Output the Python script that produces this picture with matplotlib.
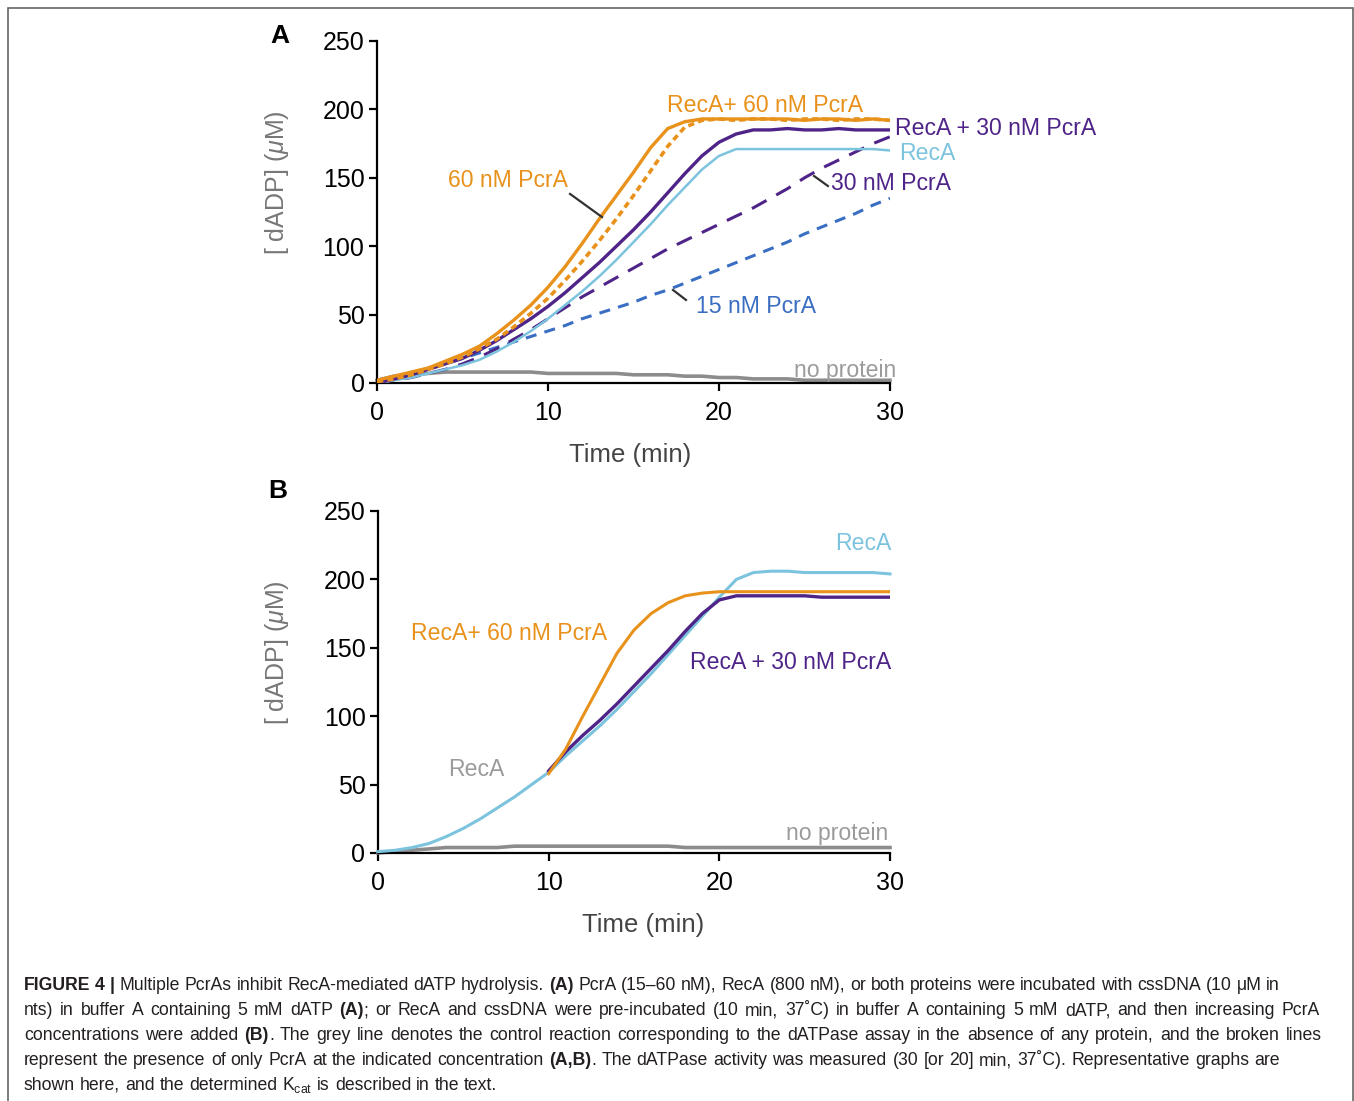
import matplotlib
matplotlib.use("Agg")
import matplotlib.pyplot as plt
from matplotlib.patches import Rectangle
from matplotlib.transforms import IdentityTransform

plt.rcParams['font.family'] = ['Liberation Sans', 'DejaVu Sans']
plt.rcParams['mathtext.fontset'] = 'custom'
plt.rcParams['mathtext.rm'] = 'Liberation Sans'
plt.rcParams['mathtext.it'] = 'Liberation Sans:italic'
plt.rcParams['mathtext.bf'] = 'Liberation Sans:bold'
plt.rcParams['lines.scale_dashes'] = False

# ---------------- data ----------------
A_TIME = [0, 1, 2, 3, 4, 5, 6, 7, 8, 9, 10, 11, 12, 13, 14, 15, 16, 17, 18, 19, 20,
          21, 22, 23, 24, 25, 26, 27, 28, 29, 30]
A_RECA_60 = [2, 5, 8, 11, 16, 21, 27, 36, 46, 57, 70, 85, 102, 120, 137, 154, 172, 186, 191, 193,
             193, 193, 193, 193, 193, 192, 193, 193, 192, 193, 192]
A_PCRA_60 = [1, 3, 6, 10, 14, 19, 25, 32, 41, 51, 62, 75, 89, 104, 120, 137, 155, 173, 187, 192,
             193, 192, 193, 193, 192, 193, 193, 192, 193, 193, 192]
A_RECA_30 = [0, 3, 6, 10, 14, 18, 24, 31, 39, 47, 56, 66, 77, 88, 100, 112, 125, 139, 153, 166,
             176, 182, 185, 185, 186, 185, 185, 186, 185, 185, 185]
A_RECA = [0, 2, 4, 7, 10, 13, 17, 23, 30, 38, 47, 57, 67, 78, 90, 103, 116, 130, 143, 156,
          166, 171, 171, 171, 171, 171, 171, 171, 171, 171, 170]
A_PCRA_30 = [0, 2, 4, 7, 10, 14, 19, 25, 32, 39, 47, 55, 63, 70, 77, 84, 91, 98, 104, 110,
             116, 122, 128, 135, 142, 150, 157, 163, 169, 175, 180]
A_PCRA_15 = [0, 3, 6, 10, 14, 18, 22, 26, 30, 34, 38, 42, 47, 51, 55, 59, 64, 68, 73, 78,
             83, 88, 93, 98, 103, 109, 114, 119, 124, 130, 135]
A_NONE = [2, 5, 6, 7, 8, 8, 8, 8, 8, 8, 7, 7, 7, 7, 7, 6, 6, 6, 5, 5,
          4, 4, 3, 3, 3, 2, 2, 2, 2, 2, 2]

B_TIME = [0, 1, 2, 3, 4, 5, 6, 7, 8, 9, 10, 11, 12, 13, 14, 15, 16, 17, 18, 19, 20,
          21, 22, 23, 24, 25, 26, 27, 28, 29, 30]
B_RECA = [1, 2, 4, 7, 12, 18, 25, 33, 41, 50, 59, 71, 82, 93, 105, 118, 131, 145, 159, 173,
          187, 200, 205, 206, 206, 205, 205, 205, 205, 205, 204]
B_NONE = [0, 1, 2, 3, 4, 4, 4, 4, 5, 5, 5, 5, 5, 5, 5, 5, 5, 5, 4, 4,
          4, 4, 4, 4, 4, 4, 4, 4, 4, 4, 4]
B_TIME_PCRA = [10, 11, 12, 13, 14, 15, 16, 17, 18, 19, 20, 21, 22, 23, 24, 25, 26, 27, 28, 29, 30]
B_RECA_30 = [60, 74, 86, 97, 109, 122, 135, 148, 162, 175, 185, 188, 188, 188, 188, 188, 187, 187,
             187, 187, 187]
B_RECA_60 = [58, 76, 100, 123, 146, 163, 175, 183, 188, 190, 191, 191, 191, 191, 191, 191, 191, 191,
             191, 191, 191]

X_TICKS = [0, 10, 20, 30]
Y_TICKS = [0, 50, 100, 150, 200, 250]

CAPTION_LINES = [
    "**FIGURE 4 |** Multiple PcrAs inhibit RecA-mediated dATP hydrolysis. **(A)** PcrA (15–60 nM), RecA (800 nM), or both proteins were incubated with cssDNA (10 μM in",
    "nts) in buffer A containing 5 mM dATP **(A)**; or RecA and cssDNA were pre-incubated (10 min, 37˚C) in buffer A containing 5 mM dATP, and then increasing PcrA",
    "concentrations were added **(B)**. The grey line denotes the control reaction corresponding to the dATPase assay in the absence of any protein, and the broken lines",
    "represent the presence of only PcrA at the indicated concentration **(A,B)**. The dATPase activity was measured (30 [or 20] min, 37˚C). Representative graphs are",
    "shown here, and the determined K$_{\\mathrm{cat}}$ is described in the text.",
]

# ---------------- styling ----------------
ORANGE = '#E8921C'
PURPLE = '#4F2488'
LBLUE = '#7CC3DE'
BLUE = '#3A6EC2'
GREY = '#8C8C8C'
LGREY = '#9B9B9B'

W, H = 1354, 1101
fig = plt.figure(figsize=(W / 100, H / 100), dpi=100)


def px_rect(l, t, r, b):
    return [l / W, 1 - b / H, (r - l) / W, (b - t) / H]


def style_axes(ax):
    for s in ('top', 'right'):
        ax.spines[s].set_visible(False)
    for s in ('left', 'bottom'):
        ax.spines[s].set_linewidth(1.6)
    ax.set_xlim(0, 30)
    ax.set_ylim(0, 250)
    ax.set_xticks(X_TICKS)
    ax.set_yticks(Y_TICKS)
    ax.tick_params(direction='out', length=6, width=1.6, labelsize=18, pad=3, colors='black')
    ax.tick_params(axis='x', pad=7)


axA = fig.add_axes(px_rect(377, 41, 890, 383))
axB = fig.add_axes(px_rect(378, 511, 890, 853))
for ax in (axA, axB):
    style_axes(ax)

# ---- panel A ----
axA.plot(A_TIME, A_NONE, color=GREY, lw=2.6, clip_on=False, zorder=2)
axA.plot(A_TIME, A_PCRA_15, color=BLUE, lw=2.2, dashes=(8, 6), zorder=3)
axA.plot(A_TIME, A_PCRA_30, color=PURPLE, lw=2.2, dashes=(12, 8), zorder=3)
axA.plot(A_TIME, A_RECA, color=LBLUE, lw=1.8, zorder=4)
axA.plot(A_TIME, A_RECA_30, color=PURPLE, lw=2.4, zorder=5)
axA.plot(A_TIME, A_PCRA_60, color=ORANGE, lw=2.6, dashes=(4.5, 3), zorder=6)
axA.plot(A_TIME, A_RECA_60, color=ORANGE, lw=2.4, zorder=7)

ann_fs = 16.6
axA.text(16.96, 203.2, 'RecA+ 60 nM PcrA', color=ORANGE, fontsize=ann_fs, ha='left', va='center')
axA.text(30.29, 186.4, 'RecA + 30 nM PcrA', color=PURPLE, fontsize=ann_fs, ha='left', va='center', clip_on=False)
axA.text(30.53, 167.4, 'RecA', color=LBLUE, fontsize=ann_fs, ha='left', va='center', clip_on=False)
axA.text(26.55, 145.5, '30 nM PcrA', color=PURPLE, fontsize=ann_fs, ha='left', va='center', clip_on=False)
axA.text(4.15, 147.7, '60 nM PcrA', color=ORANGE, fontsize=ann_fs, ha='left', va='center')
axA.text(18.65, 55.6, '15 nM PcrA', color=BLUE, fontsize=ann_fs, ha='left', va='center')
axA.text(24.39, 8.8, 'no protein', color=LGREY, fontsize=ann_fs, ha='left', va='center', clip_on=False)
axA.plot([11.29, 13.16], [138.2, 121.3], color='#333333', lw=1.6, zorder=8)
axA.plot([25.56, 26.37], [151.3, 144.0], color='#333333', lw=1.6, zorder=8)
axA.plot([17.31, 18.07], [68.0, 60.7], color='#333333', lw=1.6, zorder=8)

# ---- panel B ----
axB.plot(B_TIME, B_NONE, color=GREY, lw=2.6, clip_on=False, zorder=2)
axB.plot(B_TIME, B_RECA, color=LBLUE, lw=2.2, clip_on=False, zorder=3)
axB.plot(B_TIME_PCRA, B_RECA_30, color=PURPLE, lw=2.4, zorder=4)
axB.plot(B_TIME_PCRA, B_RECA_60, color=ORANGE, lw=2.2, zorder=5)

axB.text(26.77, 225.9, 'RecA', color=LBLUE, fontsize=ann_fs, ha='left', va='center')
axB.text(1.93, 160.1, 'RecA+ 60 nM PcrA', color=ORANGE, fontsize=ann_fs, ha='left', va='center')
axB.text(18.28, 139.6, 'RecA + 30 nM PcrA', color=PURPLE, fontsize=ann_fs, ha='left', va='center')
axB.text(4.10, 61.4, 'RecA', color=LGREY, fontsize=ann_fs, ha='left', va='center')
axB.text(23.9, 14.6, 'no protein', color=LGREY, fontsize=ann_fs, ha='left', va='center')

# ---- axis labels ----
for ax, xl, yl in ((axA, (0.493, -0.21), (-0.195, 0.585)),
                   (axB, (0.518, -0.21), (-0.197, 0.585))):
    ax.set_xlabel('Time (min)', fontsize=18.5, color='#444444')
    ax.xaxis.label.set_va('center')
    ax.xaxis.set_label_coords(*xl)
    ax.set_ylabel('[ dADP] ($\\mu$M)', fontsize=18, color='#777777')
    ax.yaxis.label.set_va('center')
    ax.yaxis.label.set_ha('center')
    ax.yaxis.set_label_coords(*yl)

fig.text(280 / W, 1 - 36 / H, 'A', fontsize=19, fontweight='bold', ha='center', va='center')
fig.text(278 / W, 1 - 491 / H, 'B', fontsize=19, fontweight='bold', ha='center', va='center')

# ---- frame ----
fig.add_artist(Rectangle((8 / W, -0.02), (1353 - 8) / W, 1 - 8 / H + 0.02,
                         transform=fig.transFigure, fill=False, ec='#666666', lw=1.2))

# ---- caption (justified words) ----
CAP_FS = 12.7
CAP_COLOR = '#231F20'
CAP_LEFT = 24
CAP_BASELINES = [990, 1015, 1040, 1065, 1090]
CAP_RIGHT = [1280, 1320, 1322, 1280, None]


def parse(line):
    parts = line.split('**')
    words, cur = [], []
    for i, p in enumerate(parts):
        bold = (i % 2 == 1)
        pieces = p.split(' ')
        for j, piece in enumerate(pieces):
            if j > 0 and cur:
                words.append(cur)
                cur = []
            if piece:
                cur.append((piece, bold))
    if cur:
        words.append(cur)
    return words


renderer = fig.canvas.get_renderer()
em_px = CAP_FS * 100 / 72
for line, base, right in zip(CAPTION_LINES, CAP_BASELINES, CAP_RIGHT):
    words = parse(line)
    items = []
    total = 0
    for w in words:
        segs = []
        ww = 0
        for txt, bold in w:
            t = fig.text(0, H - base, txt, transform=IdentityTransform(), fontsize=CAP_FS,
                         fontweight='bold' if bold else 'normal', color=CAP_COLOR,
                         ha='left', va='baseline')
            wd = t.get_window_extent(renderer).width
            segs.append((t, wd))
            ww += wd
        items.append((segs, ww))
        total += ww
    if right is None or len(items) < 2:
        gap = 0.278 * em_px
    else:
        gap = (right - CAP_LEFT - total) / (len(items) - 1)
        gap = max(gap, 0.15 * em_px)
    x = CAP_LEFT
    for segs, ww in items:
        xx = x
        for t, wd in segs:
            t.set_position((xx, H - base))
            xx += wd
        x += ww + gap

fig.savefig('out.png', dpi=100)
